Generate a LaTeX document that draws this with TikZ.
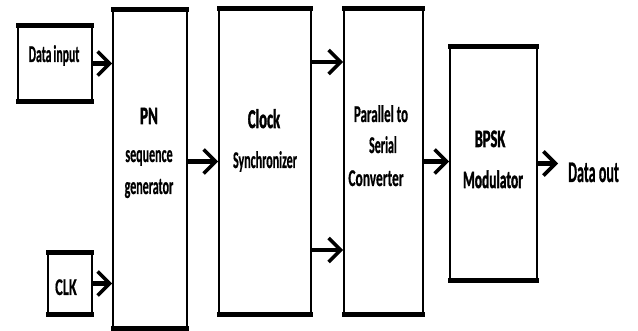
\documentclass[tikz,border=0pt]{standalone}
\usepackage{fontspec}
\setmainfont{Carlito}
\newfontfamily\rgf{Carlito}[BoldFeatures={FakeBold=0.8}]
\newfontfamily\bdf{Carlito}[BoldFeatures={FakeBold=2.2}]
\usetikzlibrary{arrows.meta}
\newcommand\sqz[2][0.6]{\scalebox{#1}[1]{#2}}
\tikzset{
  blk/.style={draw, line width=1.8pt, inner sep=0pt},
  lbl/.style={anchor=base, inner sep=0pt, font=\fontsize{24}{28}\rgf\bfseries},
  blbl/.style={anchor=base, inner sep=0pt, font=\fontsize{25}{29}\bdf\bfseries},
  arr/.style={line width=4.6pt, -{Straight Barb[length=12pt,width=24pt,line width=3.6pt]}},
  band/.style={line width=5pt}
}
\begin{document}
\begin{tikzpicture}[x=1pt,y=-1pt]
\useasboundingbox (0,0) rectangle (638,331);
% boxes
\node[blk, minimum width=74pt, minimum height=75pt] (din) at (55,63.5) {};
\node[blk, minimum width=44pt, minimum height=61pt] (ck) at (70,283.5) {};
\node[blk, minimum width=74pt, minimum height=318pt] (pn) at (150,169) {};
\node[blk, minimum width=92pt, minimum height=305pt] (cs) at (265,161.5) {};
\node[blk, minimum width=79pt, minimum height=305pt] (ps) at (383.5,161.5) {};
\node[blk, minimum width=87pt, minimum height=233pt] (bp) at (493.5,163.5) {};
\foreach \n in {din,ck,pn,cs,ps,bp}{
  \draw[band] ([xshift=-0.9pt]\n.north west) -- ([xshift=0.9pt]\n.north east);
  \draw[band] ([xshift=-0.9pt]\n.south west) -- ([xshift=0.9pt]\n.south east);
}
% labels
\node[lbl] (tdin) at (54,62) {\sqz[0.49]{Data\,input}};
\node[lbl] (tck) at (66,295) {\sqz[0.6]{CLK}};
\node[blbl] (tpn1) at (149,124) {\sqz[0.6]{PN}};
\node[lbl] (tpn2) at (149,162) {\sqz[0.5]{sequence}};
\node[lbl] (tpn3) at (149,194) {\sqz[0.5]{generator}};
\node[blbl, font=\fontsize{27}{30}\bdf\bfseries] (tcs1) at (264,128) {\sqz[0.54]{Clock}};
\node[lbl] (tcs2) at (265,168) {\sqz[0.5]{Synchronizer}};
\node[lbl] (tps1) at (381,122) {\sqz[0.54]{Parallel to}};
\node[lbl] (tps2) at (383,153) {\sqz[0.5]{Serial}};
\node[lbl] (tps3) at (376,186) {\sqz[0.56]{Converter}};
\node[blbl] (tbp1) at (490,147) {\sqz[0.58]{BPSK}};
\node[blbl] (tbp2) at (493,188) {\sqz[0.54]{Modulator}};
\node[anchor=base west, inner sep=0pt, font=\fontsize{30}{34}\rgf\bfseries] (out) at (568,182) {\sqz[0.47]{Data out}};
% connectors
\draw[arr] (din.east) -- (din.east -| pn.west);
\draw[arr] (ck.east) -- (ck.east -| pn.west);
\draw[arr] (pn.east |- cs.west) -- (cs.west);
\draw[arr] ([yshift=99.5pt]cs.east) -- ([yshift=99.5pt]ps.west);
\draw[arr] ([yshift=-88.5pt]cs.east) -- ([yshift=-88.5pt]ps.west);
\draw[arr] (ps.east) -- (ps.east -| bp.west);
\draw[arr] (bp.east) -- ([xshift=-10pt]out.west |- bp.east);
\end{tikzpicture}
\end{document}
